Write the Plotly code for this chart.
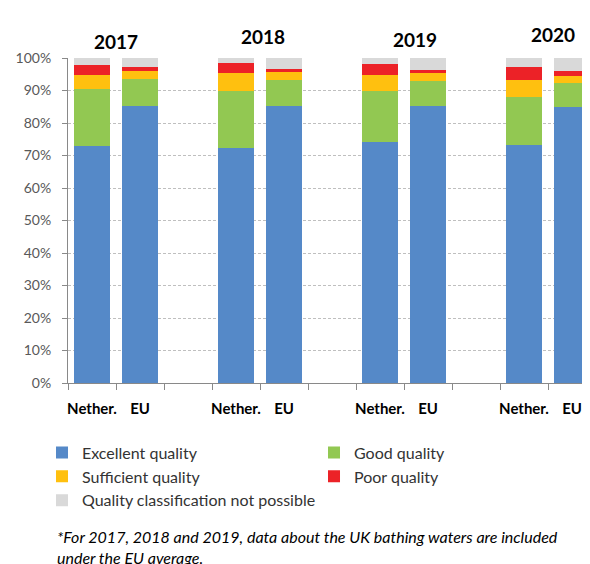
import plotly.graph_objects as go

# Datos (%): Países Bajos vs. media UE, 2017-2020
anios = ["2017", "2018", "2019", "2020"]
grupos = ["Nether.", "EU"]

excelente = {"Nether.": [73.0, 72.4, 74.2, 73.3], "EU": [85.1, 85.1, 85.1, 84.8]}
buena = {"Nether.": [17.4, 17.6, 15.5, 14.7], "EU": [8.5, 8.0, 7.8, 7.6]}
suficiente = {"Nether.": [4.5, 5.4, 5.2, 5.1], "EU": [2.3, 2.6, 2.4, 2.1]}
pobre = {"Nether.": [2.9, 3.1, 3.3, 4.2], "EU": [1.4, 1.0, 1.1, 1.4]}
sin_clasif = {"Nether.": [2.2, 1.5, 1.8, 2.7], "EU": [2.7, 3.3, 3.6, 4.1]}

series = [
    ("Excellent quality", excelente, "#5589C8"),
    ("Good quality", buena, "#92C852"),
    ("Sufficient quality", suficiente, "#FFC00F"),
    ("Poor quality", pobre, "#EC2227"),
    ("Quality classification not possible", sin_clasif, "#D9D9D9"),
]

_FONT = "Lato, 'Open Sans', sans-serif"
_GRIS = "#898989"

# posición en el eje: cada año ocupa 3 casillas (Nether., EU, hueco)
xs, etiquetas, claves = [], [], []
for i, anio in enumerate(anios):
    for j, g in enumerate(grupos):
        xs.append(i * 3 + j)
        etiquetas.append(g)
        claves.append((g, i))

fig = go.Figure()
for nombre, datos, color in series:
    fig.add_trace(go.Bar(
        x=xs,
        y=[datos[g][i] for g, i in claves],
        name=nombre,
        marker=dict(color=color, line=dict(width=0)),
        width=0.735,
    ))

# años encima de cada par de barras (x en datos, y en papel)
pos_anios = [(0.5, 1.052), (3.56, 1.065), (6.72, 1.057), (9.6, 1.071)]
for anio, (x, y) in zip(anios, pos_anios):
    fig.add_annotation(x=x, y=y, yref="paper", text=f"<b>{anio}</b>", showarrow=False,
                       font=dict(size=19, color="black", family=_FONT),
                       xanchor="center", yanchor="middle")

fig.add_annotation(
    xref="paper", yref="paper", x=-0.024, y=-0.437, xanchor="left", yanchor="top",
    align="left", showarrow=False,
    text="<i>*For 2017, 2018 and 2019, data about the UK bathing waters are included"
         "<br>under the EU average.</i>",
    font=dict(size=16, color="black", family=_FONT),
)

fig.update_layout(
    barmode="stack",
    width=590, height=564,
    paper_bgcolor="white", plot_bgcolor="white",
    margin=dict(l=60, r=8, t=50, b=189),
    font=dict(family=_FONT, color="#333333", size=14),
    showlegend=True,
    legend=dict(
        orientation="h", x=-0.0498, y=-0.162, xanchor="left", yanchor="top",
        entrywidth=227, entrywidthmode="pixels", traceorder="normal",
        font=dict(size=16, color="#333333", family=_FONT),
        bgcolor="rgba(0,0,0,0)",
    ),
    bargap=0,
)

fig.update_xaxes(
    range=[-0.5, 10.375],
    tickmode="array", tickvals=xs, ticktext=[f"<b>{t}</b>" for t in etiquetas],
    ticks="outside", ticklen=12, tickcolor="rgba(0,0,0,0)",
    tickfont=dict(size=15, color="black", family=_FONT),
    showline=True, linecolor=_GRIS, linewidth=1,
    showgrid=False, zeroline=False,
    minor=dict(ticks="outside", tick0=-0.5, dtick=1, ticklen=6, tickcolor=_GRIS,
               showgrid=False),
)
fig.update_yaxes(
    range=[0, 100],
    tickvals=list(range(0, 101, 10)),
    ticktext=[f"{v}%" for v in range(0, 101, 10)],
    ticks="outside", ticklen=5, tickcolor=_GRIS,
    tickfont=dict(size=14, color="#595959", family=_FONT),
    ticklabelstandoff=8,
    showline=True, linecolor=_GRIS, linewidth=1,
    showgrid=True, gridcolor="#BFBFBF", griddash="3px,2px", gridwidth=1,
    zeroline=False,
)

fig.write_html("out.html")
